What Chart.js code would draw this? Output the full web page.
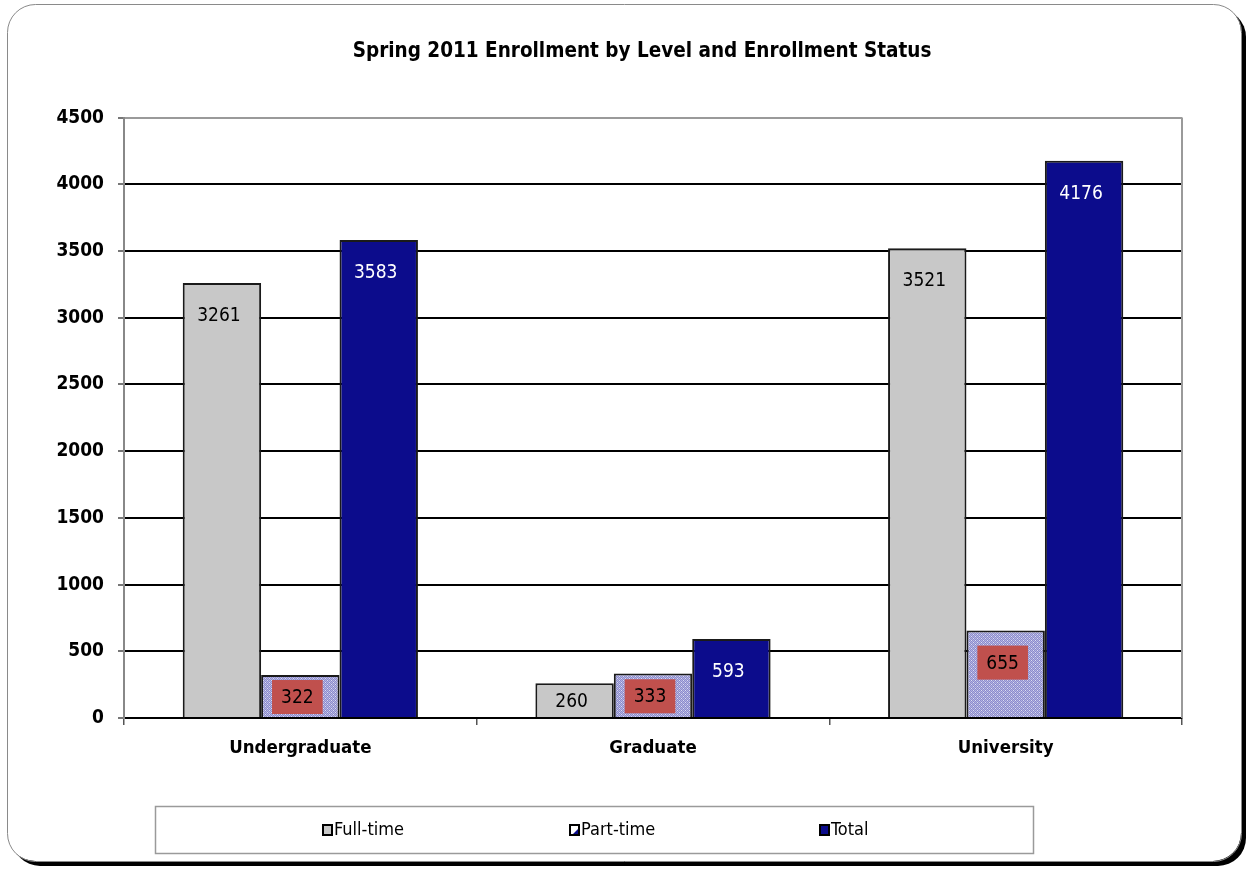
<!DOCTYPE html>
<html>
<head>
<meta charset="utf-8">
<script src="https://cdn.jsdelivr.net/npm/chart.js@4/dist/chart.umd.min.js"></script>
<style>
html,body{margin:0;padding:0;background:#fff;}
#wrap{position:relative;width:1249px;height:871px;}
</style>
</head>
<body>
<div id="wrap"><canvas id="c" width="1249" height="871"></canvas></div>
<script>
const categories = ["Undergraduate", "Graduate", "University"];
const seriesNames = ["Full-time", "Part-time", "Total"];
const fullTime = [3261, 260, 3521];
const partTime = [322, 333, 655];
const total = [3583, 593, 4176];
const yTicks = [0, 500, 1000, 1500, 2000, 2500, 3000, 3500, 4000, 4500];
const titleText = "Spring 2011 Enrollment by Level and Enrollment Status";

const FONT = "'Liberation Sans Narrow', 'DejaVu Sans Condensed', 'Arial Narrow', sans-serif";

function makePattern() {
  const p = document.createElement('canvas');
  p.width = 4; p.height = 4;
  const g = p.getContext('2d');
  g.fillStyle = '#b4b4e2';
  g.fillRect(0, 0, 4, 4);
  g.fillStyle = '#8c8ccc';
  for (let y = 0; y < 4; y++) for (let x = 0; x < 4; x++) if ((x + y) % 2 === 0) g.fillRect(x, y, 1, 1);
  g.fillStyle = '#dcdcf2';
  g.fillRect(1, 2, 1, 1); g.fillRect(3, 0, 1, 1);
  return document.getElementById('c').getContext('2d').createPattern(p, 'repeat');
}
const ptPattern = makePattern();

const fillColors = ['#c8c8c8', ptPattern, '#0c0c8c'];
const legendSwatch = ['#c8c8c8', '#ffffff', '#0c0c8c'];
const labelStyles = [
  {color: '#000000', box: null},
  {color: '#000000', box: '#c0504d'},
  {color: '#ffffff', box: null}
];

const framePlugin = {
  id: 'frame',
  beforeDraw(chart) {
    const ctx = chart.ctx;
    ctx.save();
    ctx.fillStyle = '#ffffff';
    ctx.fillRect(0, 0, chart.width, chart.height);
    const x = 7, y = 4, w = 1234, h = 857, r = 28;
    ctx.fillStyle = '#000000';
    ctx.beginPath();
    ctx.roundRect(x + 5, y + 5, w, h, r);
    ctx.fill();
    ctx.fillStyle = '#ffffff';
    ctx.beginPath();
    ctx.roundRect(x, y, w, h, r);
    ctx.fill();
    ctx.strokeStyle = '#8a8a8a';
    ctx.lineWidth = 1;
    ctx.beginPath();
    ctx.roundRect(x + 0.5, y + 0.5, w, h, r);
    ctx.stroke();
    ctx.restore();
  },
  beforeDatasetsDraw(chart) {
    const a = chart.chartArea, ctx = chart.ctx;
    ctx.save();
    ctx.strokeStyle = '#9a9a9a';
    ctx.lineWidth = 2;
    ctx.beginPath();
    ctx.moveTo(a.right, a.bottom);
    ctx.lineTo(a.right, a.top);
    ctx.stroke();
    ctx.restore();
  }
};

const labelPlugin = {
  id: 'barLabels',
  afterDatasetsDraw(chart) {
    const ctx = chart.ctx;
    ctx.save();
    ctx.font = "19px " + FONT;
    ctx.textAlign = 'center';
    ctx.textBaseline = 'middle';
    chart.data.datasets.forEach((ds, di) => {
      const meta = chart.getDatasetMeta(di);
      meta.data.forEach((bar, i) => {
        const v = ds.data[i];
        const top = bar.y, bottom = bar.base;
        const off = Math.min(31, (bottom - top) / 2);
        const cy = top + off + 1;
        const cx = bar.x - 3;
        const st = labelStyles[di];
        const txt = String(v);
        if (st.box) {
          const tw = ctx.measureText(txt).width;
          ctx.fillStyle = st.box;
          ctx.fillRect(cx - tw / 2 - 9, cy - 17, tw + 18, 34);
        }
        ctx.fillStyle = st.color;
        ctx.fillText(txt, cx, cy + 1);
      });
    });
    ctx.restore();
  }
};

const legendPlugin = {
  id: 'boxLegend',
  afterDraw(chart) {
    const ctx = chart.ctx;
    ctx.save();
    const bx = 155, by = 806, bw = 878, bh = 47;
    ctx.strokeStyle = '#9a9a9a';
    ctx.lineWidth = 1.5;
    ctx.strokeRect(bx + 0.5, by + 0.5, bw, bh);
    const xs = [322, 569, 819];
    const cy = by + bh / 2 + 0.5;
    ctx.font = "18px " + FONT;
    ctx.textBaseline = 'middle';
    ctx.textAlign = 'left';
    chart.data.datasets.forEach((ds, i) => {
      const x = xs[i];
      ctx.fillStyle = '#000';
      ctx.fillRect(x, cy - 6, 11, 12);
      ctx.fillStyle = legendSwatch[i];
      ctx.fillRect(x + 2, cy - 4, 7, 8);
      if (i === 1) {
        ctx.fillStyle = '#0c0c8c';
        ctx.beginPath();
        ctx.moveTo(x + 9, cy - 1); ctx.lineTo(x + 9, cy + 4); ctx.lineTo(x + 4, cy + 4);
        ctx.fill();
      }
      ctx.fillStyle = '#000';
      ctx.fillText(ds.label, x + 12, cy);
    });
    ctx.restore();
  }
};

new Chart(document.getElementById('c'), {
  type: 'bar',
  data: {
    labels: categories,
    datasets: [
      {label: seriesNames[0], data: fullTime, backgroundColor: fillColors[0], borderColor: '#1a1a1a', borderWidth: 2, borderSkipped: 'bottom'},
      {label: seriesNames[1], data: partTime, backgroundColor: fillColors[1], borderColor: '#1a1a1a', borderWidth: 2, borderSkipped: 'bottom'},
      {label: seriesNames[2], data: total, backgroundColor: fillColors[2], borderColor: '#1a1a1a', borderWidth: 2, borderSkipped: 'bottom'}
    ]
  },
  options: {
    responsive: false,
    animation: false,
    devicePixelRatio: 1,
    datasets: {bar: {barPercentage: 1.0, categoryPercentage: 0.667}},
    layout: {padding: {left: 35, right: 0, top: 0, bottom: 93}},
    plugins: {
      legend: {display: false},
      tooltip: {enabled: false},
      title: {
        display: true,
        text: titleText,
        color: '#000',
        font: {family: FONT, size: 20.5, weight: 'bold'},
        padding: {top: 39, bottom: 54}
      }
    },
    scales: {
      x: {
        afterFit(s) { s.height = 60; },
        grid: {offset: true, drawOnChartArea: false, drawTicks: true, tickLength: 7, color: '#555', lineWidth: 1.5},
        border: {display: true, color: '#000', width: 2},
        ticks: {color: '#000', font: {family: FONT, size: 18.5, weight: 'bold'}, padding: 12}
      },
      y: {
        min: 0, max: 4500,
        afterFit(s) { s.width = 89; },
        afterBuildTicks(s) { s.ticks = yTicks.map(v => ({value: v})); },
        grid: {
          color: ctx => (ctx.tick && ctx.tick.value === 4500) ? '#9a9a9a' : '#000',
          lineWidth: 2,
          tickColor: '#777',
          tickLength: 6,
          drawTicks: true
        },
        border: {display: true, color: '#888', width: 2},
        ticks: {color: '#000', font: {family: FONT, size: 19, weight: 'bold'}, padding: 14,
          callback: v => String(v)}
      },
      yRight: {
        position: 'right',
        min: 0, max: 4500,
        afterFit(s) { s.width = 67; },
        grid: {display: false, drawOnChartArea: false},
        border: {display: false},
        ticks: {display: false}
      }
    }
  },
  plugins: [framePlugin, labelPlugin, legendPlugin]
});
</script>
</body>
</html>
